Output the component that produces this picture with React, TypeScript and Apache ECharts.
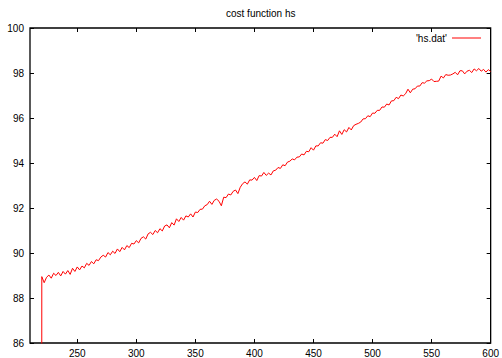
import React, { useEffect, useRef } from "react";
import * as echarts from "echarts";

const titleText = "cost function hs";
const seriesName = "'hs.dat'";
const xTicks = [250, 300, 350, 400, 450, 500, 550, 600];
const yTicks = [86, 88, 90, 92, 94, 96, 98, 100];

const xs: number[] = [
  219, 220, 222, 224, 226, 228, 230, 232, 234, 236, 238, 240, 242, 244, 246, 248,
  250, 252, 254, 256, 258, 260, 262, 264, 266, 268, 270, 272, 274, 276, 278, 280,
  282, 284, 286, 288, 290, 292, 294, 296, 298, 300, 302, 304, 306, 308, 310, 312,
  314, 316, 318, 320, 322, 324, 326, 328, 330, 332, 334, 336, 338, 340, 342, 344,
  346, 348, 350, 352, 354, 356, 358, 360, 362, 364, 366, 368, 370, 372, 374, 376,
  378, 380, 382, 384, 386, 388, 390, 392, 394, 396, 398, 400, 402, 404, 406, 408,
  410, 412, 414, 416, 418, 420, 422, 424, 426, 428, 430, 432, 434, 436, 438, 440,
  442, 444, 446, 448, 450, 452, 454, 456, 458, 460, 462, 464, 466, 468, 470, 472,
  474, 476, 478, 480, 482, 484, 486, 488, 490, 492, 494, 496, 498, 500, 502, 504,
  506, 508, 510, 512, 514, 516, 518, 520, 522, 524, 526, 528, 530, 532, 534, 536,
  538, 540, 542, 544, 546, 548, 550, 552, 554, 556, 558, 560, 562, 564, 566, 568,
  570, 572, 574, 576, 578, 580, 582, 584, 586, 588, 590, 592, 594, 596, 598, 600,
];

const ys: number[] = [
  0, 88.95, 88.68, 88.92, 89.02, 88.88, 89.1, 89.0, 89.14, 88.98, 89.18, 89.06, 89.22, 89.05, 89.32, 89.18,
  89.38, 89.25, 89.42, 89.34, 89.54, 89.45, 89.62, 89.52, 89.7, 89.66, 89.82, 89.9, 89.82, 90.02, 89.92, 90.08,
  89.98, 90.18, 90.06, 90.25, 90.14, 90.33, 90.24, 90.43, 90.4, 90.55, 90.45, 90.65, 90.72, 90.62, 90.85, 90.92,
  90.82, 91.0, 90.9, 91.08, 90.98, 91.2, 91.25, 91.12, 91.35, 91.24, 91.52, 91.4, 91.58, 91.46, 91.65, 91.6,
  91.74, 91.6, 91.82, 91.8, 91.94, 91.95, 92.1, 92.15, 92.3, 92.16, 92.34, 92.4, 92.3, 92.1, 92.48, 92.46,
  92.62, 92.58, 92.74, 92.8, 92.64, 92.92, 93.08, 93.16, 93.06, 93.25, 93.24, 93.36, 93.22, 93.44, 93.42, 93.58,
  93.45, 93.55, 93.47, 93.65, 93.68, 93.8, 93.76, 93.92, 93.88, 94.04, 94.08, 94.18, 94.14, 94.26, 94.27, 94.4,
  94.36, 94.52, 94.5, 94.68, 94.57, 94.76, 94.76, 94.9, 94.88, 95.04, 95.0, 95.14, 95.14, 95.28, 95.17, 95.43,
  95.27, 95.48, 95.38, 95.58, 95.47, 95.66, 95.72, 95.76, 95.82, 95.96, 95.97, 96.1, 96.06, 96.22, 96.21, 96.34,
  96.34, 96.49, 96.48, 96.62, 96.58, 96.76, 96.77, 96.92, 96.86, 97.02, 96.98, 97.08, 97.28, 97.12, 97.28, 97.3,
  97.42, 97.42, 97.57, 97.55, 97.65, 97.66, 97.73, 97.62, 97.63, 97.64, 97.86, 97.78, 97.93, 97.9, 97.91, 97.96,
  98.03, 97.92, 98.1, 98.1, 97.96, 98.08, 98.12, 98.02, 98.18, 98.1, 98.2, 98.08, 98.16, 98.04, 98.15, 98.07,
];

const FONT = "'Liberation Sans', Arial, Helvetica, sans-serif";

export default function App() {
  const ref = useRef<HTMLDivElement>(null);
  useEffect(() => {
    if (!ref.current) return;
    const chart = echarts.init(ref.current, undefined, { renderer: "svg" });
    const data = xs.map((x, i) => [x, ys[i]]);
    const tickStyle = { show: true, inside: true, length: 4, lineStyle: { color: "#000", width: 1 } };
    chart.setOption({
      animation: false,
      backgroundColor: "#fff",
      title: {
        text: titleText,
        left: 226,
        top: 8,
        padding: 0,
        textStyle: { fontFamily: FONT, fontSize: 10, fontWeight: "normal", color: "#000" },
      },
      legend: {
        data: [seriesName],
        right: 21,
        top: 33,
        align: "right",
        icon: "rect",
        itemWidth: 29,
        itemHeight: 1,
        itemGap: 6,
        padding: 0,
        itemStyle: { color: "#ff0000" },
        textStyle: { fontFamily: FONT, fontSize: 10, color: "#000", padding: [0, 0, 0, 1] },
      },
      grid: {
        left: 30,
        right: 9,
        top: 28,
        bottom: 15,
        show: true,
        borderColor: "#000",
        borderWidth: 1.3,
        backgroundColor: "transparent",
      },
      xAxis: [
        {
          type: "value",
          min: 210,
          max: 600,
          axisLine: { show: false },
          splitLine: { show: false },
          axisTick: { ...tickStyle, customValues: xTicks },
          axisLabel: { customValues: xTicks, fontFamily: FONT, fontSize: 10, color: "#000", margin: 5 },
        },
        {
          type: "value",
          position: "top",
          min: 210,
          max: 600,
          axisLine: { show: false },
          splitLine: { show: false },
          axisTick: { ...tickStyle, customValues: xTicks },
          axisLabel: { show: false },
        },
      ],
      yAxis: [
        {
          type: "value",
          min: 86,
          max: 100,
          interval: 2,
          axisLine: { show: false },
          splitLine: { show: false },
          axisTick: { ...tickStyle, customValues: yTicks },
          axisLabel: { customValues: yTicks, fontFamily: FONT, fontSize: 10, color: "#000", margin: 6 },
        },
        {
          type: "value",
          position: "right",
          min: 86,
          max: 100,
          interval: 2,
          axisLine: { show: false },
          splitLine: { show: false },
          axisTick: { ...tickStyle, customValues: yTicks },
          axisLabel: { show: false },
        },
      ],
      series: [
        {
          name: seriesName,
          type: "line",
          data,
          symbol: "none",
          showSymbol: false,
          clip: true,
          lineStyle: { color: "#ff0000", width: 1 },
          itemStyle: { color: "#ff0000" },
        },
      ],
    });
    return () => chart.dispose();
  }, []);
  return <div ref={ref} style={{ position: "fixed", left: 0, top: 0, width: 502, height: 358 }} />;
}
